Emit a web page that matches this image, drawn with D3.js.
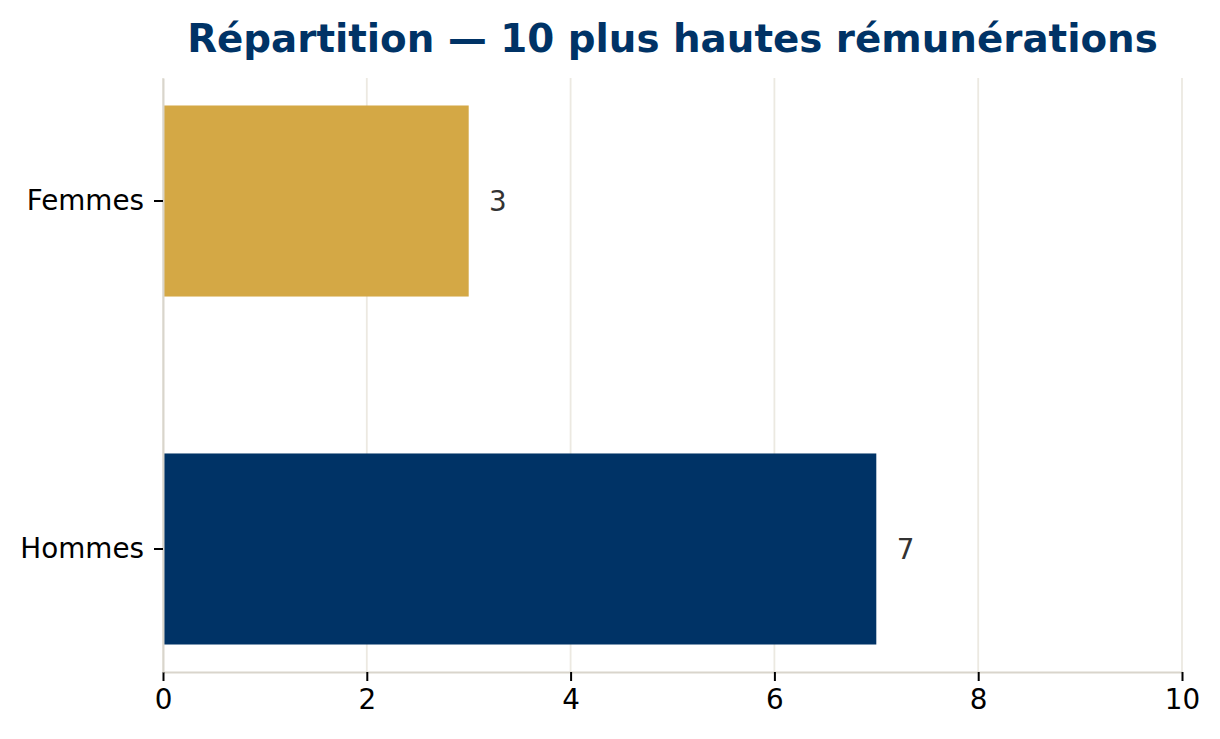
<!DOCTYPE html>
<html>
<head>
<meta charset="utf-8">
<script src="https://cdn.jsdelivr.net/npm/d3@7"></script>
<style>
  body { margin: 0; background: #fff; }
  svg { font-family: "DejaVu Sans", sans-serif; }
</style>
</head>
<body>
<svg id="chart" width="1220" height="739"></svg>
<script>
const categories = ["Femmes", "Hommes"]
const values = [3, 7]
const colors = ["#D4A845", "#003366"]
const xTicks = [0, 2, 4, 6, 8, 10]
const title = "Répartition — 10 plus hautes rémunérations"

const margin = {top: 78, right: 38, bottom: 67, left: 163}
const width = 1220
const height = 739

const svg = d3.select("#chart")

const x = d3.scaleLinear()
  .domain([0, 10])
  .range([margin.left, width - margin.right])

const y = d3.scaleBand()
  .domain(categories)
  .range([margin.top, height - margin.bottom])
  .paddingInner(0.451)
  .paddingOuter(0.079)

// grid
svg.append("g")
  .selectAll("line")
  .data(xTicks)
  .join("line")
  .attr("x1", d => x(d))
  .attr("x2", d => x(d))
  .attr("y1", margin.top)
  .attr("y2", height - margin.bottom)
  .attr("stroke", "#ece9e1")
  .attr("stroke-width", 1.8)

// bars
svg.append("g")
  .selectAll("rect")
  .data(values)
  .join("rect")
  .attr("x", x(0))
  .attr("y", (d, i) => y(categories[i]))
  .attr("width", d => x(d) - x(0))
  .attr("height", y.bandwidth())
  .attr("fill", (d, i) => colors[i])

// value labels
svg.append("g")
  .selectAll("text")
  .data(values)
  .join("text")
  .attr("x", d => x(d + 0.2))
  .attr("y", (d, i) => y(categories[i]) + y.bandwidth() / 2)
  .attr("dy", "0.35em")
  .attr("font-size", 27.8)
  .attr("fill", "#333")
  .text(d => d)

// x axis
const xAxis = svg.append("g")
  .attr("transform", `translate(0, ${height - margin.bottom})`)
  .call(d3.axisBottom(x).tickValues(xTicks).tickSize(9).tickPadding(8).tickSizeOuter(0))
xAxis.select(".domain").attr("stroke", "#d9d5cc").attr("stroke-width", 2)
xAxis.selectAll(".tick line").attr("stroke", "#000").attr("stroke-width", 2)
xAxis.selectAll(".tick text").attr("font-size", 27.8).attr("fill", "#000")
  .attr("font-family", "DejaVu Sans")

// y axis
const yAxis = svg.append("g")
  .attr("transform", `translate(${margin.left}, 0)`)
  .call(d3.axisLeft(y).tickSize(9).tickPadding(10).tickSizeOuter(0))
yAxis.select(".domain").attr("stroke", "#d9d5cc").attr("stroke-width", 2)
yAxis.selectAll(".tick line").attr("stroke", "#000").attr("stroke-width", 2)
yAxis.selectAll(".tick text").attr("font-size", 27.8).attr("fill", "#000")
  .attr("font-family", "DejaVu Sans")

// title
svg.append("text")
  .attr("x", (x(0) + x(10)) / 2)
  .attr("y", 52)
  .attr("text-anchor", "middle")
  .attr("font-size", 38.8)
  .attr("font-weight", "bold")
  .attr("fill", "#003366")
  .text(title)
</script>
</body>
</html>
